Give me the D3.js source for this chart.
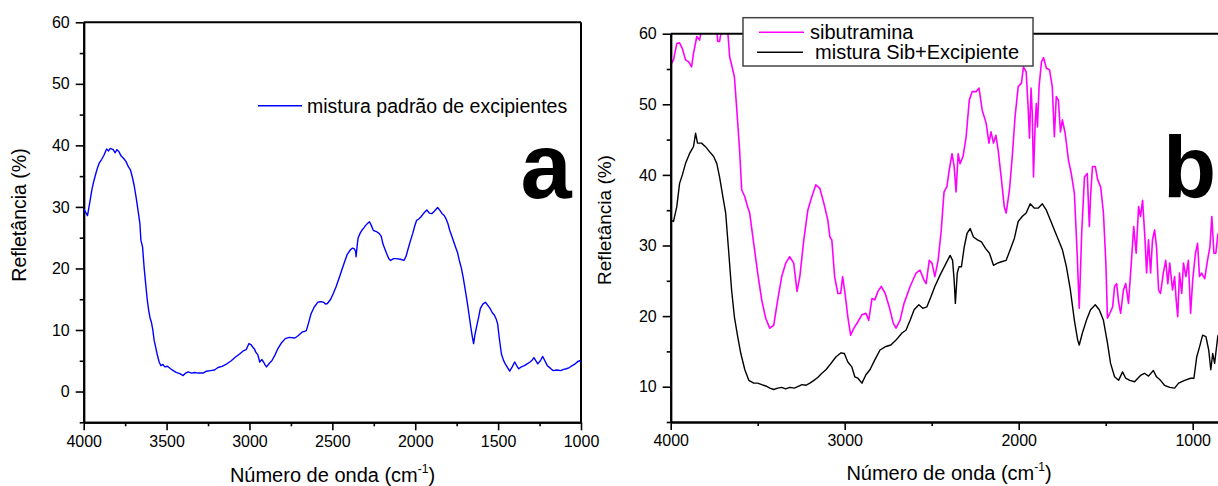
<!DOCTYPE html>
<html>
<head>
<meta charset="utf-8">
<script src="https://cdn.jsdelivr.net/npm/d3@7"></script>
<style>
html,body{margin:0;padding:0;background:#fff;overflow:hidden;}
svg{display:block;font-family:"Liberation Sans",Arial,sans-serif;}
</style>
</head>
<body>
<svg id="chart" width="1218" height="486"></svg>
<script>
// ---------- Panel a data ----------
const wnA = [4000,3990,3977,3961,3950,3938,3925,3915,3905,3892,3878,3862,3850,3840,3822,3810,3800,3788,3775,3760,3745,3730,3718,3707,3695,3684,3672,3661,3655,3645,3635,3626,3617,3608,3600,3592,3583,3575,3565,3557,3545,3534,3522,3511,3495,3476,3460,3442,3420,3400,3385,3370,3349,3330,3310,3280,3260,3235,3211,3190,3165,3142,3110,3084,3060,3038,3020,3003,2990,2980,2970,2962,2950,2938,2925,2915,2905,2897,2880,2865,2845,2830,2810,2784,2760,2726,2705,2680,2665,2657,2645,2629,2610,2588,2570,2553,2540,2530,2510,2495,2478,2461,2445,2426,2410,2392,2380,2368,2360,2357,2350,2345,2333,2322,2310,2299,2288,2276,2265,2253,2235,2218,2205,2195,2185,2172,2160,2149,2130,2115,2090,2068,2055,2045,2030,2015,2003,1992,1980,1965,1948,1930,1915,1900,1885,1865,1850,1838,1825,1815,1803,1792,1775,1757,1745,1734,1722,1711,1700,1688,1676,1665,1655,1648,1640,1630,1618,1607,1592,1577,1562,1549,1535,1522,1512,1503,1492,1480,1468,1457,1443,1430,1415,1400,1388,1376,1360,1342,1325,1307,1295,1284,1272,1261,1245,1231,1218,1203,1185,1169,1145,1123,1105,1088,1070,1053,1035,1018,1008,1000];
const refA = [29.7,29.2,28.6,31.1,32.9,34.3,35.6,36.5,37.2,37.7,38.4,39.4,39.1,39.5,39.3,38.8,39.3,39.0,38.3,37.9,37.4,36.5,36.0,34.9,33.4,31.6,29.4,27.3,24.6,23.5,20.0,17.5,15.0,13.2,12.0,11.3,10.0,8.3,7.1,6.1,4.8,4.2,4.4,4.0,4.1,3.7,3.4,3.1,2.9,2.6,3.0,3.2,3.0,3.1,3.0,3.0,3.3,3.4,3.5,3.9,4.1,4.4,5.0,5.6,6.1,6.6,6.8,7.8,7.6,7.2,6.9,6.4,6.0,4.8,5.2,4.8,4.3,4.0,4.6,5.0,6.0,6.9,7.8,8.6,8.8,8.7,9.1,9.7,9.8,9.9,11.0,12.6,13.7,14.5,14.6,14.5,14.2,14.3,15.0,15.9,17.0,18.3,19.6,21.1,22.3,23.0,23.3,23.2,22.8,21.9,23.8,24.9,25.7,26.2,26.6,27.0,27.3,27.6,27.0,26.2,26.0,25.7,25.2,24.0,23.3,22.4,21.6,21.3,21.6,21.6,21.5,21.3,22.0,23.0,24.4,25.7,26.9,27.8,28.0,28.4,29.0,29.5,29.0,28.9,29.3,29.9,29.4,28.9,28.6,28.1,27.3,26.2,24.9,23.5,22.6,21.3,20.1,18.6,16.8,14.8,12.6,10.5,8.8,7.8,9.2,10.5,12.0,13.5,14.2,14.5,14.0,13.5,12.8,12.4,11.8,11.0,8.5,6.1,5.1,4.5,3.9,3.3,4.0,4.8,4.2,3.7,4.0,4.2,4.5,4.8,5.1,5.5,5.0,4.5,5.0,5.7,5.0,4.2,3.8,3.4,3.5,3.4,3.6,3.7,3.9,4.2,4.5,4.9,5.0,4.8];

// ---------- Panel b data ----------
const wnSib = [4000,3984,3965,3949,3933,3915,3896,3880,3869,3850,3834,3823,3780,3735,3730,3719,3708,3690,3673,3661,3650,3634,3620,3604,3592,3574,3558,3546,3523,3500,3477,3454,3431,3408,3385,3362,3339,3316,3293,3274,3258,3235,3212,3189,3166,3143,3120,3097,3085,3074,3058,3039,3023,3012,2998,2982,2966,2947,2924,2901,2878,2862,2843,2827,2809,2790,2767,2744,2721,2705,2682,2659,2624,2590,2567,2544,2532,2514,2498,2482,2463,2445,2429,2413,2399,2383,2371,2360,2348,2337,2320,2302,2284,2267,2244,2228,2210,2187,2171,2159,2145,2131,2118,2099,2083,2072,2053,2037,2021,2003,1984,1973,1957,1945,1938,1929,1922,1915,1906,1899,1892,1883,1869,1857,1841,1823,1807,1795,1784,1772,1760,1749,1733,1714,1698,1680,1664,1652,1638,1622,1606,1594,1587,1576,1560,1546,1529,1513,1499,1490,1476,1460,1449,1437,1426,1414,1398,1385,1369,1353,1339,1325,1311,1300,1288,1274,1265,1254,1242,1231,1219,1208,1196,1185,1169,1155,1143,1132,1116,1104,1095,1086,1076,1063,1053,1039,1025,1012,1000,984,972,961,949,931,915,901,890,878,867,855];
const refSib = [55.6,56.3,58.6,58.7,57.9,56.3,56.0,55.3,57.2,59.6,59.1,60.6,61.0,60.6,58.9,58.9,60.6,61.0,60.6,56.7,55.6,53.9,49.2,43.5,37.9,36.9,35.5,34.6,30.3,26.1,22.3,19.7,18.3,18.7,22.3,25.6,27.5,28.4,27.5,23.5,25.6,30.8,35.0,36.9,38.6,38.1,36.0,33.6,31.2,30.8,25.6,23.2,23.2,25.6,23.2,19.9,17.3,18.3,19.2,20.2,20.4,19.4,22.5,22.3,23.5,24.2,23.2,21.3,19.0,18.3,19.4,21.8,24.2,26.1,26.5,25.1,24.6,27.9,27.5,25.6,27.9,32.2,37.6,38.3,40.7,43.0,41.2,37.6,43.0,41.6,42.6,45.4,50.6,51.8,51.8,52.3,49.2,47.3,44.5,46.1,44.5,45.6,43.5,39.3,35.5,34.6,37.9,42.6,48.2,52.5,53.0,55.3,54.6,49.2,45.2,52.3,48.7,39.7,46.8,50.1,46.8,52.5,56.0,56.6,55.1,54.9,52.5,45.4,51.1,50.6,46.1,47.8,45.9,42.1,40.2,37.4,28.9,21.1,31.7,39.7,40.2,32.7,36.9,41.2,41.2,39.3,38.3,34.6,27.5,19.7,20.4,21.3,24.2,24.6,22.0,20.4,23.7,24.6,21.8,27.5,32.7,28.9,35.5,34.1,36.4,30.8,26.1,30.8,26.1,30.8,32.2,29.8,23.7,23.2,26.1,27.9,24.6,27.5,23.7,25.6,22.3,19.9,26.1,23.2,27.5,25.6,27.9,20.4,25.1,28.9,30.3,25.6,26.1,25.3,27.9,29.8,34.1,28.9,28.9,31.7];

const wnMix = [4000,3984,3965,3949,3933,3915,3892,3869,3857,3846,3823,3800,3777,3753,3735,3719,3700,3684,3666,3650,3634,3615,3597,3574,3551,3523,3500,3477,3454,3430,3408,3385,3362,3340,3316,3290,3270,3245,3224,3200,3177,3155,3131,3108,3085,3051,3021,3002,2982,2959,2942,2924,2901,2878,2855,2827,2797,2763,2735,2705,2671,2648,2624,2601,2574,2551,2528,2505,2482,2452,2417,2394,2380,2371,2364,2353,2343,2329,2313,2297,2279,2260,2237,2214,2191,2168,2145,2122,2099,2072,2049,2025,2003,1980,1957,1934,1911,1887,1864,1841,1818,1795,1772,1749,1726,1703,1680,1661,1652,1634,1611,1587,1560,1537,1513,1490,1472,1449,1426,1403,1385,1362,1334,1300,1277,1254,1226,1208,1185,1162,1132,1104,1081,1046,1012,993,977,961,943,924,908,896,885,874,855];
const refMix = [33.6,33.4,35.5,38.8,40.0,41.6,43.0,44.0,45.9,44.5,44.5,44.0,43.3,42.6,41.6,39.7,36.9,34.6,28.9,23.7,19.9,17.1,14.7,12.4,10.9,10.5,10.5,10.3,10.1,9.8,9.6,9.8,9.9,9.7,9.9,9.8,10.0,10.3,10.2,10.5,10.9,11.3,11.9,12.4,13.1,14.2,14.8,14.7,13.5,12.8,11.4,11.2,10.5,11.7,12.4,13.8,15.2,15.7,15.9,16.6,17.6,18.0,19.4,20.9,21.6,21.1,21.3,22.7,24.2,25.8,27.5,28.6,27.9,25.1,21.8,26.1,27.0,27.0,29.8,31.7,32.4,31.2,30.8,30.5,29.6,28.9,27.2,27.5,27.7,27.9,29.4,31.0,33.4,34.1,34.6,35.9,35.3,35.3,35.9,35.0,33.6,32.2,30.8,29.4,27.0,23.7,19.4,16.6,15.9,17.6,19.4,20.9,21.6,20.9,19.4,16.2,13.3,11.4,10.9,12.1,11.2,10.9,10.7,11.6,11.9,11.5,12.3,11.4,10.9,10.2,9.9,9.8,10.5,10.9,11.2,11.2,14.2,15.6,17.3,17.1,15.2,12.4,14.7,13.3,17.3];

// ---------- Tick values ----------
const xTicksA = [4000,3500,3000,2500,2000,1500,1000];
const xMinorA = [3750,3250,2750,2250,1750,1250];
const yTicksA = [0,10,20,30,40,50,60];
const yMinorA = [-5,5,15,25,35,45,55];
const xTicksB = [4000,3000,2000,1000];
const xMinorB = [3500,2500,1500];
const yTicksB = [10,20,30,40,50,60];
const yMinorB = [5,15,25,35,45,55];

const legendA = ["mistura padrão de excipientes"];
const legendB = ["sibutramina", " mistura Sib+Excipiente"];

const svg = d3.select("#chart");
const FONT = "'Liberation Sans', Arial, sans-serif";

function drawAxes(g, x, y, xt, xm, yt, ym) {
  g.append("g").attr("transform", `translate(0,${y.range()[0]})`)
    .call(d3.axisBottom(x).tickValues(xt).tickSize(8).tickSizeOuter(0).tickPadding(5).tickFormat(d3.format("d")));
  g.append("g").attr("transform", `translate(0,${y.range()[0]})`)
    .call(d3.axisBottom(x).tickValues(xm).tickSize(4).tickSizeOuter(0).tickFormat(""));
  g.append("g").attr("transform", `translate(${x.range()[0]},0)`)
    .call(d3.axisLeft(y).tickValues(yt).tickSize(8).tickSizeOuter(0).tickPadding(6).tickFormat(d3.format("d")));
  g.append("g").attr("transform", `translate(${x.range()[0]},0)`)
    .call(d3.axisLeft(y).tickValues(ym).tickSize(4).tickSizeOuter(0).tickFormat(""));
  g.selectAll(".domain").attr("stroke", "#000").attr("stroke-width", 2);
  g.selectAll(".tick line").attr("stroke", "#000").attr("stroke-width", 1.6);
  g.selectAll(".tick text").attr("font-family", FONT).attr("font-size", 16).attr("fill", "#000");
}

// ---------- Panel a ----------
const xA = d3.scaleLinear().domain([4000, 1000]).range([83.7, 581]);
const yA = d3.scaleLinear().domain([-5, 60]).range([422.3, 22.3]);
const gA = svg.append("g");
gA.append("line").attr("x1", xA(4000)).attr("x2", xA(1000)).attr("y1", yA(60)).attr("y2", yA(60)).attr("stroke", "#000").attr("stroke-width", 2);
gA.append("line").attr("x1", xA(1000)).attr("x2", xA(1000)).attr("y1", yA(60)).attr("y2", yA(-5)).attr("stroke", "#000").attr("stroke-width", 2);
drawAxes(gA, xA, yA, xTicksA, xMinorA, yTicksA, yMinorA);

const lineA = d3.line().x((d, i) => xA(wnA[i])).y(d => yA(d));
gA.append("path").datum(refA).attr("d", lineA).attr("fill", "none").attr("stroke", "#0000ff").attr("stroke-width", 1.4).attr("stroke-linejoin", "round");

gA.append("line").attr("x1", 258).attr("x2", 302).attr("y1", 105.7).attr("y2", 105.7).attr("stroke", "#0000ff").attr("stroke-width", 1.4);
gA.append("text").attr("x", 307).attr("y", 112.5).attr("font-family", FONT).attr("font-size", 19.5).text(legendA[0]);

gA.append("text").attr("x", 546).attr("y", 198).attr("text-anchor", "middle").attr("font-family", FONT).attr("font-weight", "bold").attr("font-size", 92).text("a");

const titleA = gA.append("text").attr("x", 332.5).attr("y", 482).attr("text-anchor", "middle").attr("font-family", FONT).attr("font-size", 20);
titleA.append("tspan").text("Número de onda (cm");
titleA.append("tspan").attr("font-size", 12).attr("dy", -9).text("-1");
titleA.append("tspan").attr("dy", 9).text(")");

gA.append("text").attr("transform", "translate(26,215) rotate(-90)").attr("text-anchor", "middle").attr("font-family", FONT).attr("font-size", 19.5).text("Refletância (%)");

// ---------- Panel b ----------
const xB = d3.scaleLinear().domain([4000, 850]).range([670.7, 670.7 + 3150 * 0.174]);
const yB = d3.scaleLinear().domain([5, 60]).range([422, 33.7]);
const gB = svg.append("g");
svg.append("defs").append("clipPath").attr("id", "clipB").append("rect")
  .attr("x", xB(4000)).attr("y", yB(60)).attr("width", xB(850) - xB(4000)).attr("height", yB(5) - yB(60));

const lineSib = d3.line().x((d, i) => xB(wnSib[i])).y(d => yB(d));
const lineMix = d3.line().x((d, i) => xB(wnMix[i])).y(d => yB(d));
gB.append("path").datum(refSib).attr("d", lineSib).attr("clip-path", "url(#clipB)").attr("fill", "none").attr("stroke", "#ff00ff").attr("stroke-width", 1.6).attr("stroke-linejoin", "round");
gB.append("path").datum(refMix).attr("d", lineMix).attr("clip-path", "url(#clipB)").attr("fill", "none").attr("stroke", "#000").attr("stroke-width", 1.4).attr("stroke-linejoin", "round");

gB.append("line").attr("x1", xB(4000)).attr("x2", 1230).attr("y1", yB(60)).attr("y2", yB(60)).attr("stroke", "#000").attr("stroke-width", 2);
drawAxes(gB, xB, yB, xTicksB, xMinorB, yTicksB, yMinorB);

gB.append("rect").attr("x", 743).attr("y", 17.7).attr("width", 290).attr("height", 48.3).attr("fill", "#fff").attr("stroke", "#444").attr("stroke-width", 1.5);
gB.append("line").attr("x1", 759).attr("x2", 804).attr("y1", 32.3).attr("y2", 32.3).attr("stroke", "#ff00ff").attr("stroke-width", 1.6);
gB.append("text").attr("x", 810).attr("y", 39).attr("font-family", FONT).attr("font-size", 20).text(legendB[0]);
gB.append("line").attr("x1", 757).attr("x2", 803).attr("y1", 52.3).attr("y2", 52.3).attr("stroke", "#000").attr("stroke-width", 1.4);
gB.append("text").attr("x", 809.5).attr("y", 59).attr("font-family", FONT).attr("font-size", 20).style("white-space", "pre").text(legendB[1]);

gB.append("text").attr("x", 1163).attr("y", 197).attr("font-family", FONT).attr("font-weight", "bold").attr("font-size", 87).text("b");

const titleB = gB.append("text").attr("x", 949).attr("y", 480).attr("text-anchor", "middle").attr("font-family", FONT).attr("font-size", 20);
titleB.append("tspan").text("Número de onda (cm");
titleB.append("tspan").attr("font-size", 12).attr("dy", -9).text("-1");
titleB.append("tspan").attr("dy", 9).text(")");

gB.append("text").attr("transform", "translate(611,220) rotate(-90)").attr("text-anchor", "middle").attr("font-family", FONT).attr("font-size", 19).text("Refletância (%)");
</script>
</body>
</html>
